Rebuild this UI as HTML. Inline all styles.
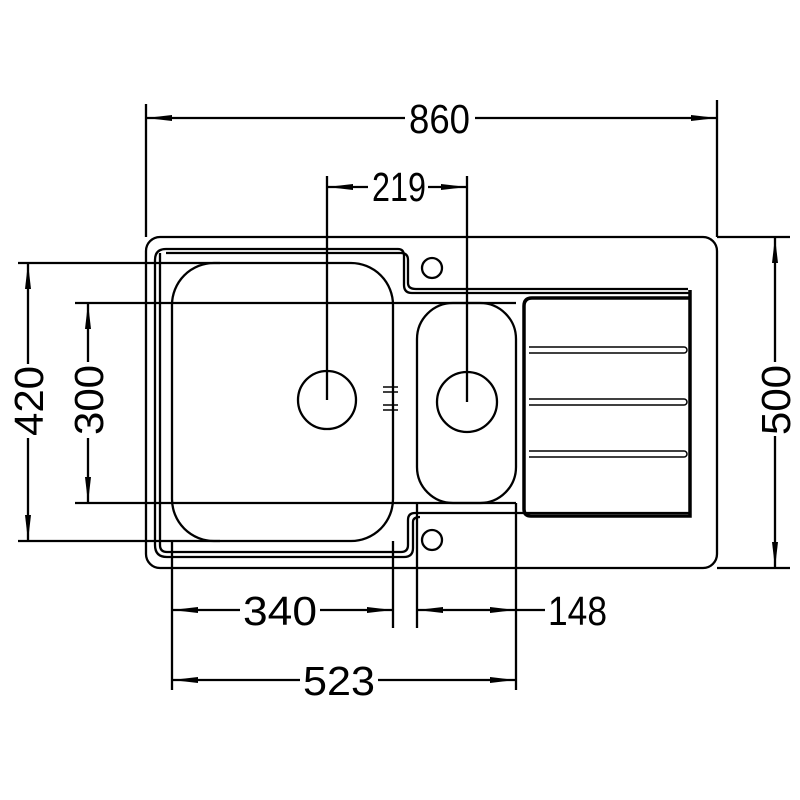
<!DOCTYPE html>
<html><head><style>html,body{margin:0;padding:0;background:#fff}svg{display:block}</style></head>
<body>
<svg width="800" height="800" viewBox="0 0 800 800" xmlns="http://www.w3.org/2000/svg">
<defs>
<marker id="a" viewBox="0 0 26 8" refX="26" refY="4" markerWidth="26" markerHeight="8" markerUnits="userSpaceOnUse" orient="auto-start-reverse"><path d="M0,1 L26,4 L0,7 Z" fill="#000"/></marker>
</defs>
<g fill="none" stroke="#000" stroke-width="2.3">
<rect x="146" y="237" width="571" height="331" rx="14"/>
<path d="M166,249 H398 Q404,249 404,256 V285 Q404,293 412,293 H690"/>
<path d="M160,253 V545 Q160,552 167,552 H401 Q408,552 408,545 V520 Q408,513 415,513 H690"/>
<path d="M166,249 Q155,249 155,260 V545 Q155,557 167,557 H404 Q413,557 413,548 V522 Q413,517 420,517"/>
<path d="M166,253 H401 Q408,253 408,260 V283 Q408,289 416,289 H688"/>
<rect x="172" y="263" width="221" height="278" rx="42"/>
<rect x="417" y="303" width="99" height="200" rx="36"/>
<circle cx="327" cy="400" r="29"/>
<circle cx="467" cy="402" r="30"/>
<circle cx="432" cy="268" r="10"/>
<circle cx="432" cy="540" r="10"/>
<path d="M383,387 H398 M383,392 H398 M383,405 H398 M383,410 H398" stroke-width="1.5"/>
<path d="M690,290 V516 H531 Q524,516 524,509 V306 Q524,298 532,298 H690" stroke-width="3.5"/>
<path d="M529,347 H684 A3,3 0 0 1 684,353 H529 M529,399 H684 A3,3 0 0 1 684,405 H529 M529,451 H684 A3,3 0 0 1 684,457 H529" stroke-width="1.5"/>
<path d="M146,104 V237 M717,100 V237 M327,176 V400 M467,176 V402"/>
<path d="M717,237 H790 M717,568 H790"/>
<path d="M18,263 H220 M18,541 H220 M75,303 H516 M75,503 H516"/>
<path d="M172,541 V690 M393,541 V628 M417,503 V628 M516,503 V690"/>
</g>
<g stroke="#000" stroke-width="2.3" fill="none">
<path d="M146,118 H405 M475,118 H717" marker-start="url(#a)" marker-end="url(#a)"/>
<path d="M368,187 H327" marker-end="url(#a)"/>
<path d="M428,187 H467" marker-end="url(#a)"/>
<path d="M775,237 V362 M775,436 V568" marker-start="url(#a)" marker-end="url(#a)"/>
<path d="M28,263 V364 M28,438 V541" marker-start="url(#a)" marker-end="url(#a)"/>
<path d="M88,303 V362 M88,438 V503" marker-start="url(#a)" marker-end="url(#a)"/>
<path d="M172,610 H240 M320,610 H393" marker-start="url(#a)" marker-end="url(#a)"/>
<path d="M417,610 H516" marker-start="url(#a)" marker-end="url(#a)"/>
<path d="M516,610 H545"/>
<path d="M172,680 H300 M378,680 H516" marker-start="url(#a)" marker-end="url(#a)"/>
</g>
<g font-family="Liberation Sans, sans-serif" font-size="41" fill="#000">
<text x="409" y="133" textLength="61" lengthAdjust="spacingAndGlyphs">860</text>
<text x="372" y="201" textLength="54" lengthAdjust="spacingAndGlyphs">219</text>
<text x="243" y="625" textLength="74" lengthAdjust="spacingAndGlyphs">340</text>
<text x="548" y="625" textLength="59" lengthAdjust="spacingAndGlyphs">148</text>
<text x="303" y="695" textLength="72" lengthAdjust="spacingAndGlyphs">523</text>
<text transform="translate(43,436) rotate(-90)" textLength="70" lengthAdjust="spacingAndGlyphs">420</text>
<text transform="translate(103,435) rotate(-90)" textLength="70" lengthAdjust="spacingAndGlyphs">300</text>
<text transform="translate(790,435) rotate(-90)" textLength="70" lengthAdjust="spacingAndGlyphs">500</text>
</g>
</svg>
</body></html>
